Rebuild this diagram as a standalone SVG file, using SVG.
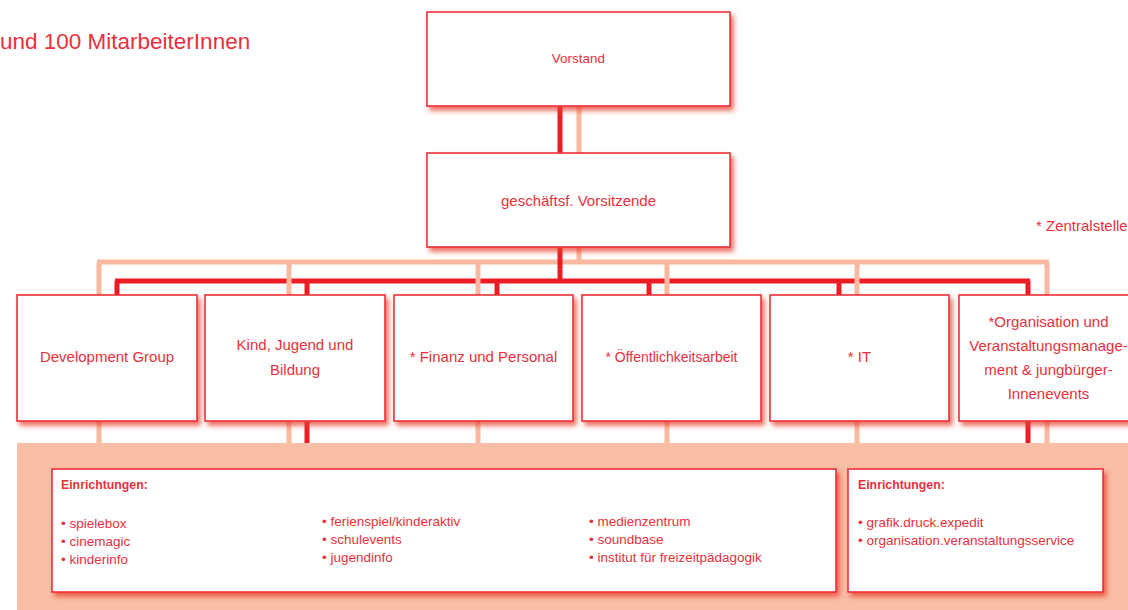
<svg xmlns="http://www.w3.org/2000/svg" width="1128" height="610" viewBox="0 0 1128 610">
<defs>
<filter id="sh" x="-10%" y="-10%" width="130%" height="140%">
<feDropShadow dx="3" dy="4" stdDeviation="2.5" flood-color="#e8402f" flood-opacity="0.75"/>
</filter>
<style>
.box{fill:#ffffff;stroke:#ee2f3a;stroke-width:1.6;filter:url(#sh)}
.t{font-family:"Liberation Sans",Arial,sans-serif;fill:#e8303c;font-size:15px}
.c{text-anchor:middle}
.s{font-size:13.5px}
.b{font-weight:bold;font-size:12.3px}
.red{stroke:#ec1c24;stroke-width:5;fill:none}
.pch{stroke:#f8b9a0;stroke-width:5;fill:none}
</style>
</defs>
<rect x="0" y="0" width="1128" height="610" fill="#ffffff"/>
<text class="t" x="0" y="49" style="font-size:22.5px">und 100 MitarbeiterInnen</text>
<text class="t" x="1036" y="231">* Zentralstelle</text>
<rect x="17" y="443" width="1111" height="167" fill="#f8bea6"/>
<g id="connectors">
<path class="pch" d="M97,262 H1049"/>
<path class="red" d="M115,281 H1030"/>
<path class="red" d="M560,106 V153 M560,247 V281"/>
<path class="pch" d="M579,106 V153 M579,247 V262"/>
<path class="pch" d="M99,262 V295 M289,262 V295 M478,262 V295 M667,262 V295 M857,262 V295 M1047,262 V295"/>
<path class="red" d="M117,281 V295 M307,281 V295 M497,281 V295 M649,281 V295 M839,281 V295 M1028,281 V295"/>
<path class="pch" d="M99,421 V443 M289,421 V443 M478,421 V443 M667,421 V443 M857,421 V443 M1047,421 V443"/>
<path class="red" d="M307,421 V443 M1028,421 V443"/>
</g>
<g id="vorstand">
<rect class="box" x="427" y="12" width="303" height="94"/>
<text class="t c" x="578.5" y="63" style="font-size:13.5px">Vorstand</text>
</g>
<g id="gf">
<rect class="box" x="427" y="153" width="303" height="94"/>
<text class="t c" x="578.5" y="206">geschäftsf. Vorsitzende</text>
</g>
<g id="dev">
<rect class="box" x="17" y="295" width="180" height="126"/>
<text class="t c" x="107" y="362">Development Group</text>
</g>
<g id="kind">
<rect class="box" x="205" y="295" width="180" height="126"/>
<text class="t c" x="295" y="350">Kind, Jugend und</text>
<text class="t c" x="295" y="375">Bildung</text>
</g>
<g id="finanz">
<rect class="box" x="394" y="295" width="179" height="126"/>
<text class="t c" x="483.5" y="362">* Finanz und Personal</text>
</g>
<g id="oeff">
<rect class="box" x="582" y="295" width="179" height="126"/>
<text class="t c" x="671.5" y="362" style="font-size:14px">* Öffentlichkeitsarbeit</text>
</g>
<g id="it">
<rect class="box" x="770" y="295" width="179" height="126"/>
<text class="t c" x="859.5" y="362">* IT</text>
</g>
<g id="org">
<rect class="box" x="959" y="295" width="180" height="126"/>
<text class="t c" x="1048.5" y="327">*Organisation und</text>
<text class="t c" x="1048.5" y="351">Veranstaltungsmanage-</text>
<text class="t c" x="1048.5" y="375">ment &amp; jungbürger-</text>
<text class="t c" x="1048.5" y="399">Innenevents</text>
</g>
<g id="einr1">
<rect class="box" x="52" y="469" width="784" height="123"/>
<text class="t b" x="61" y="489">Einrichtungen:</text>
<text class="t s" x="61" y="528">• spielebox</text>
<text class="t s" x="61" y="546">• cinemagic</text>
<text class="t s" x="61" y="564">• kinderinfo</text>
<text class="t s" x="322" y="526">• ferienspiel/kinderaktiv</text>
<text class="t s" x="322" y="544">• schulevents</text>
<text class="t s" x="322" y="562">• jugendinfo</text>
<text class="t s" x="589" y="526">• medienzentrum</text>
<text class="t s" x="589" y="544">• soundbase</text>
<text class="t s" x="589" y="562">• institut für freizeitpädagogik</text>
</g>
<g id="einr2">
<rect class="box" x="848" y="469" width="255" height="123"/>
<text class="t b" x="858" y="489">Einrichtungen:</text>
<text class="t s" x="858" y="527">• grafik.druck.expedit</text>
<text class="t s" x="858" y="545">• organisation.veranstaltungsservice</text>
</g>
</svg>
